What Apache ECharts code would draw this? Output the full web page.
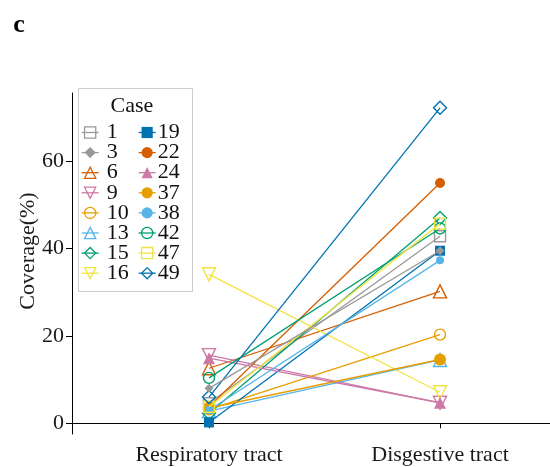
<!DOCTYPE html>
<html>
<head>
<meta charset="utf-8">
<script src="https://cdn.jsdelivr.net/npm/echarts@6/dist/echarts.min.js"></script>
<style>
html,body{margin:0;padding:0;background:#fff;}
#chart{width:550px;height:467px;}
</style>
</head>
<body>
<div id="chart"></div>
<script>
// ---- data ----
const categories = ['Respiratory tract', 'Disgestive tract'];
const cases = ['1', '3', '6', '9', '10', '13', '15', '16', '19', '22', '24', '37', '38', '42', '47', '49'];
const respiratory = [4.6, 8.0, 12.6, 15.6, 3.2, 2.8, 2.3, 34.1, 0.2, 3.8, 14.9, 3.5, 3.0, 10.4, 3.8, 6.0];
const digestive = [42.8, 39.5, 30.2, 4.7, 20.3, 14.5, 47.0, 7.1, 39.5, 55.0, 4.7, 14.6, 37.3, 44.6, 45.7, 72.2];
const yTicks = [0, 20, 40, 60];

// ---- styles ----
const caseColors = ['#999999', '#999999', '#D55E00', '#CC79A7', '#E69F00', '#56B4E9', '#009E73', '#F0E442',
                    '#0072B2', '#D55E00', '#CC79A7', '#E69F00', '#56B4E9', '#009E73', '#F0E442', '#0072B2'];
const caseSymbols = ['rect', 'diamond', 'triangle', 'triangle', 'circle', 'triangle', 'diamond', 'triangle',
                     'rect', 'circle', 'triangle', 'circle', 'circle', 'circle', 'rect', 'diamond'];
const caseRotate = [0, 0, 0, 180, 0, 0, 0, 180, 0, 0, 0, 0, 0, 0, 0, 0];
const caseFilled = [false, true, false, false, false, false, false, false, true, true, true, true, true, false, false, false];
const caseSize = [11, 9, 13, 13, 11, 13, 13, 13, 10, 10, 12, 12, 8, 11, 11, 13];
const caseZ = [2.00, 2.30, 2.02, 2.03, 2.04, 2.05, 2.06, 2.07, 2.08, 2.09, 2.10, 2.11, 2.12, 2.13, 2.14, 2.15];

const FONT = '"Liberation Serif", "Times New Roman", serif';

function symStyle(i) {
  return caseFilled[i]
    ? { color: caseColors[i], borderWidth: 0 }
    : { color: 'rgba(0,0,0,0)', borderColor: caseColors[i], borderWidth: 1.4 };
}

const series = cases.map((c, i) => ({
  name: c,
  type: 'line',
  data: [[1, respiratory[i]], [2, digestive[i]]],
  symbol: caseSymbols[i],
  symbolRotate: caseRotate[i],
  symbolSize: caseSize[i],
  showSymbol: true,
  lineStyle: { color: caseColors[i], width: 1.3 },
  itemStyle: symStyle(i),
  emphasis: { disabled: true },
  animation: false,
  z: caseZ[i]
}));

function legendItems(from, to) {
  const out = [];
  for (let i = from; i < to; i++) {
    out.push({
      name: cases[i],
      itemStyle: caseFilled[i]
        ? { color: caseColors[i], borderWidth: 0 }
        : { color: 'rgba(0,0,0,0)', borderColor: caseColors[i], borderWidth: 1.3 },
      lineStyle: { color: caseColors[i], width: 1.3 }
    });
  }
  return out;
}

const legendCommon = {
  orient: 'vertical',
  top: 121.5,
  padding: 0,
  itemWidth: 17,
  itemHeight: 14,
  itemGap: -1.9,
  selectedMode: false
};

const chart = echarts.init(document.getElementById('chart'), null, { renderer: 'canvas' });
chart.setOption({
  backgroundColor: '#fff',
  animation: false,
  grid: { left: 72, right: 0, top: 93, bottom: 33, containLabel: false },
  xAxis: {
    type: 'value',
    min: 0.407,
    max: 2.476,
    splitLine: { show: false },
    axisLine: { show: true, lineStyle: { color: '#000', width: 1 } },
    axisTick: { show: true, length: 5, lineStyle: { color: '#000' }, customValues: [1, 2] },
    axisLabel: {
      customValues: [1, 2],
      formatter: v => categories[Math.round(v) - 1] || '',
      fontFamily: FONT, fontSize: 22, color: '#1a1a1a', margin: 10
    }
  },
  yAxis: {
    type: 'value',
    min: -2.45,
    max: 75.6,
    splitLine: { show: false },
    axisLine: { show: true, lineStyle: { color: '#000', width: 1 } },
    axisTick: { show: true, length: 6, lineStyle: { color: '#000' }, customValues: yTicks },
    axisLabel: {
      customValues: yTicks,
      fontFamily: FONT, fontSize: 22, color: '#1a1a1a', margin: 8
    }
  },
  legend: [
    Object.assign({}, legendCommon, { left: 81, data: legendItems(0, 8),
      textStyle: { fontFamily: FONT, fontSize: 22, color: '#111', padding: [0, 0, 0, 3] } }),
    Object.assign({}, legendCommon, { left: 138, data: legendItems(8, 16),
      textStyle: { fontFamily: FONT, fontSize: 22, color: '#111', padding: [0, 0, 0, -3] } })
  ],
  graphic: [
    { type: 'rect', shape: { x: 78.5, y: 88.5, width: 114, height: 203 },
      style: { fill: '#fff', stroke: '#cccccc', lineWidth: 1 }, z: 1 },
    { type: 'text', x: 132, y: 106, z: 5,
      style: { text: 'Case', fontFamily: FONT, fontSize: 22, fill: '#111', align: 'center', verticalAlign: 'middle' } },
    { type: 'text', x: 28, y: 251, rotation: Math.PI / 2, z: 5,
      style: { text: 'Coverage(%)', fontFamily: FONT, fontSize: 22, fill: '#1a1a1a', align: 'center', verticalAlign: 'middle' } },
    { type: 'text', x: 19, y: 25, z: 5,
      style: { text: 'c', fontFamily: FONT, fontSize: 26, fontWeight: 'bold', fill: '#000', align: 'center', verticalAlign: 'middle' } }
  ],
  series: series
});
</script>
</body>
</html>
